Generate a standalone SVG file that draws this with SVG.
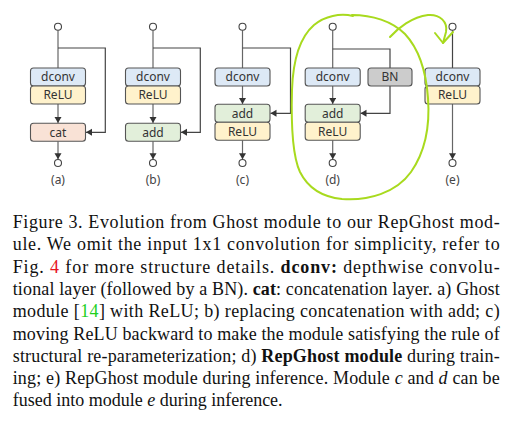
<svg xmlns="http://www.w3.org/2000/svg" width="513" height="424" viewBox="0 0 513 424">
<defs>
<marker id="ah" markerUnits="userSpaceOnUse" markerWidth="8" markerHeight="8" refX="6" refY="3.5" orient="auto">
<path d="M0,0 L6,3.5 L0,7 z" fill="#333"/>
</marker>
<style>
.box{stroke:#555;stroke-width:1.1}
.dconv{fill:#dde9f6}
.relu{fill:#fff2cc}
.cat{fill:#f9e2d6}
.add{fill:#e2efda}
.bn{fill:#cccccc}
.bt{font-family:"Noto Sans","Liberation Sans",sans-serif;font-size:12px;fill:#333;text-anchor:middle}
.lbl{font-family:"Noto Sans","Liberation Sans",sans-serif;font-size:12px;fill:#444;text-anchor:middle}
.io{fill:#fff;stroke:#444;stroke-width:1.1}
.ln{fill:none;stroke:#666;stroke-width:1.2}
.br{fill:none;stroke:#444;stroke-width:1.2}
.cap{font-family:"Liberation Serif","Times New Roman",serif;font-size:18px;fill:#111}
.hl{fill:none;stroke:#a8da1e;stroke-width:2;stroke-linecap:round;stroke-linejoin:round}
</style>
</defs>
<rect width="513" height="424" fill="#fff"/>

<g id="connectors">
<!-- a -->
<path class="ln" d="M58,30.2 V68"/>
<path class="br" d="M58,48 H105.3 V132.3 H86" marker-end="url(#ah)"/>
<path class="ln" d="M58,104 V123" marker-end="url(#ah)"/>
<path class="ln" d="M58,141.3 V159.3" marker-end="url(#ah)"/>
<!-- b -->
<path class="ln" d="M153,30.2 V68"/>
<path class="br" d="M153,48 H200.3 V132.3 H181" marker-end="url(#ah)"/>
<path class="ln" d="M153,104 V123" marker-end="url(#ah)"/>
<path class="ln" d="M153,141.3 V159.3" marker-end="url(#ah)"/>
<!-- c -->
<path class="ln" d="M242.5,30.2 V68"/>
<path class="br" d="M242.5,48 H290.5 V113.3 H270.5" marker-end="url(#ah)"/>
<path class="ln" d="M242.5,86 V104" marker-end="url(#ah)"/>
<path class="ln" d="M242.5,140.3 V159.3" marker-end="url(#ah)"/>
<!-- d -->
<path class="ln" d="M332.7,30.2 V68"/>
<path class="br" d="M332.7,49 H390 V68"/>
<path class="br" d="M390,86 V113.3 H360.5" marker-end="url(#ah)"/>
<path class="ln" d="M332.7,86 V104" marker-end="url(#ah)"/>
<path class="ln" d="M332.7,140.3 V159.3" marker-end="url(#ah)"/>
<!-- e -->
<path class="br" d="M452.5,30.2 V68"/>
<path class="ln" d="M452.5,104 V159.3" marker-end="url(#ah)"/>
</g>

<g id="node-a">
<circle class="io" cx="58" cy="26.7" r="3.5"/>
<rect class="box dconv" x="30.5" y="68" width="55" height="18" rx="3"/>
<text class="bt" x="58" y="81.3">dconv</text>
<rect class="box relu" x="30.5" y="86" width="55" height="18" rx="3"/>
<text class="bt" x="58" y="99.3">ReLU</text>
<rect class="box cat" x="30.5" y="123.3" width="55" height="18" rx="3"/>
<text class="bt" x="58" y="136.6">cat</text>
<circle class="io" cx="58" cy="163" r="3.5"/>
<text class="lbl" x="58" y="184">(a)</text>
</g>

<g id="node-b">
<circle class="io" cx="153" cy="26.7" r="3.5"/>
<rect class="box dconv" x="125.5" y="68" width="55" height="18" rx="3"/>
<text class="bt" x="153" y="81.3">dconv</text>
<rect class="box relu" x="125.5" y="86" width="55" height="18" rx="3"/>
<text class="bt" x="153" y="99.3">ReLU</text>
<rect class="box add" x="125.5" y="123.3" width="55" height="18" rx="3"/>
<text class="bt" x="153" y="136.6">add</text>
<circle class="io" cx="153" cy="163" r="3.5"/>
<text class="lbl" x="153" y="184">(b)</text>
</g>

<g id="node-c">
<circle class="io" cx="242.5" cy="26.7" r="3.5"/>
<rect class="box dconv" x="215" y="68" width="55" height="18" rx="3"/>
<text class="bt" x="242.5" y="81.3">dconv</text>
<rect class="box add" x="215" y="104.3" width="55" height="18" rx="3"/>
<text class="bt" x="242.5" y="117.6">add</text>
<rect class="box relu" x="215" y="122.3" width="55" height="18" rx="3"/>
<text class="bt" x="242.5" y="135.6">ReLU</text>
<circle class="io" cx="242.5" cy="163" r="3.5"/>
<text class="lbl" x="242.5" y="184">(c)</text>
</g>

<g id="node-d">
<circle class="io" cx="332.7" cy="26.7" r="3.5"/>
<rect class="box dconv" x="305.2" y="68" width="55" height="18" rx="3"/>
<text class="bt" x="332.7" y="81.3">dconv</text>
<rect class="box bn" x="368" y="68" width="44" height="18" rx="3"/>
<text class="bt" x="390" y="81.3">BN</text>
<rect class="box add" x="305.2" y="104.3" width="55" height="18" rx="3"/>
<text class="bt" x="332.7" y="117.6">add</text>
<rect class="box relu" x="305.2" y="122.3" width="55" height="18" rx="3"/>
<text class="bt" x="332.7" y="135.6">ReLU</text>
<circle class="io" cx="332.7" cy="163" r="3.5"/>
<text class="lbl" x="332.7" y="184">(d)</text>
</g>

<g id="node-e">
<circle class="io" cx="452.5" cy="26.7" r="3.5"/>
<rect class="box dconv" x="425" y="68" width="55" height="18" rx="3"/>
<text class="bt" x="452.5" y="81.3">dconv</text>
<rect class="box relu" x="425" y="86" width="55" height="18" rx="3"/>
<text class="bt" x="452.5" y="99.3">ReLU</text>
<circle class="io" cx="452.5" cy="163" r="3.5"/>
<text class="lbl" x="452.5" y="184">(e)</text>
</g>

<g id="highlight">
<path class="hl" d="M353,16 C340,13 325,16 314,25 C299,38 293,60 292,90 C291,125 292,155 300,172 C308,188 322,197 342,199 C368,201 396,193 411,172 C425,152 430,125 428,98 C426,70 418,48 405,34 C392,21 372,15 352,15"/>
<path class="hl" d="M390,37 C398,28 412,17 428,15 C440,14 448,22 446,32 L443,43"/>
<path class="hl" d="M435,33 L443,43 L453,32"/>
</g>

<g id="caption" class="cap">
<text x="12.7" y="228" textLength="487" lengthAdjust="spacing">Figure 3.  Evolution from Ghost module to our RepGhost mod-</text>
<text x="12.7" y="250.3" textLength="487" lengthAdjust="spacing">ule.  We omit the input 1x1 convolution for simplicity, refer to</text>
<text x="12.7" y="272.6" textLength="487" lengthAdjust="spacing">Fig.  <tspan fill="#e8141c">4</tspan> for more structure details.  <tspan font-weight="bold">dconv:</tspan> depthwise convolu-</text>
<text x="12.7" y="294.9" textLength="487" lengthAdjust="spacing">tional layer (followed by a BN). <tspan font-weight="bold">cat</tspan>: concatenation layer. a) Ghost</text>
<text x="12.7" y="317.2" textLength="487" lengthAdjust="spacing">module [<tspan fill="#1fd01f">14</tspan>] with ReLU; b) replacing concatenation with add; c)</text>
<text x="12.7" y="339.5" textLength="487" lengthAdjust="spacing">moving ReLU backward to make the module satisfying the rule of</text>
<text x="12.7" y="361.8" textLength="487" lengthAdjust="spacing">structural re-parameterization; d) <tspan font-weight="bold">RepGhost module</tspan> during train-</text>
<text x="12.7" y="384.1" textLength="487" lengthAdjust="spacing">ing; e) RepGhost module during inference. Module <tspan font-style="italic">c</tspan> and <tspan font-style="italic">d</tspan> can be</text>
<text x="12.7" y="406.4">fused into module <tspan font-style="italic">e</tspan> during inference.</text>
</g>
</svg>
